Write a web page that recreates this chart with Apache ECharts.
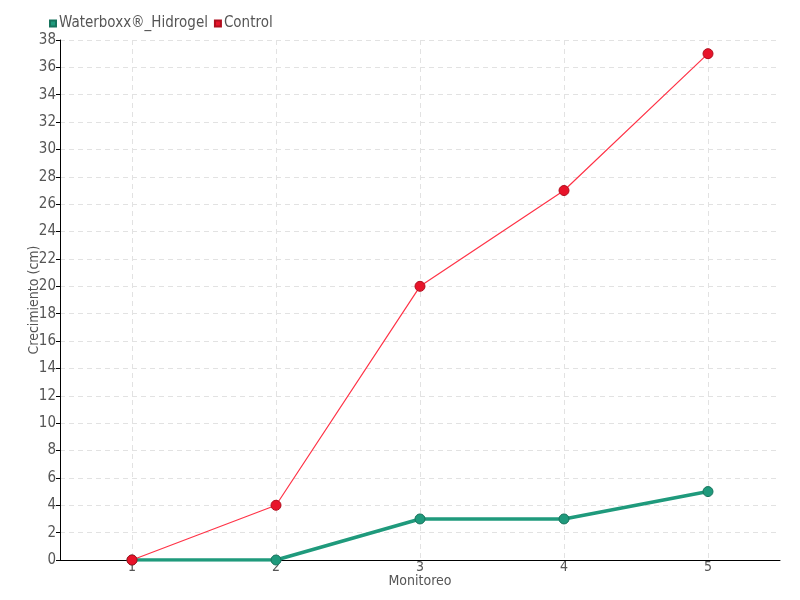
<!DOCTYPE html>
<html><head><meta charset="utf-8">
<script src="https://cdn.jsdelivr.net/npm/echarts@6/dist/echarts.min.js"></script>
<style>html,body{margin:0;padding:0;background:#fff}#c{width:800px;height:600px}</style>
</head><body><div id="c"></div>
<script>
const categories = ['1', '2', '3', '4', '5'];
const waterboxx = [0, 0, 3, 3, 5];
const control = [0, 4, 20, 27, 37];
const seriesNames = ['Waterboxx®_Hidrogel', 'Control'];
const FONT = '"Liberation Sans Narrow", "DejaVu Sans Condensed", sans-serif';
const chart = echarts.init(document.getElementById('c'));
chart.setOption({
  animation: false,
  textStyle: { fontFamily: FONT },
  legend: {
    left: 44, top: 11, itemWidth: 6, itemHeight: 6, itemGap: 6,
    icon: 'rect',
    textStyle: { fontFamily: FONT, fontSize: 15, color: '#555', padding: [0,0,0,-2] },
    data: seriesNames
  },
  grid: { left: 60, right: 20, top: 40, bottom: 40 },
  xAxis: {
    type: 'category', data: categories, boundaryGap: true,
    name: 'Monitoreo', nameLocation: 'middle', nameGap: 14, nameMoveOverlap: false,
    nameTextStyle: { fontFamily: FONT, fontSize: 14, color: '#555' },
    axisLine: { lineStyle: { color: '#000', width: 1 } },
    axisTick: { alignWithLabel: true, length: 7, lineStyle: { color: '#555' } },
    axisLabel: { fontFamily: FONT, fontSize: 14, color: '#555', margin: 0 },
    splitLine: { show: true, alignWithLabel: true, lineStyle: { color: '#e2e2e2', type: [5, 4] } }
  },
  yAxis: {
    type: 'value', min: 0, max: 38, interval: 2,
    name: 'Crecimiento (cm)', nameLocation: 'middle', nameGap: 19, nameMoveOverlap: false,
    nameTextStyle: { fontFamily: FONT, fontSize: 14, color: '#555' },
    axisLine: { show: true, lineStyle: { color: '#000', width: 1 } },
    axisTick: { show: true, length: 4, lineStyle: { color: '#000' } },
    axisLabel: { fontFamily: FONT, fontSize: 15, color: '#555', margin: 4 },
    splitLine: { show: true, lineStyle: { color: '#e2e2e2', type: [5, 4] } }
  },
  series: [
    {
      name: seriesNames[0], type: 'line', data: waterboxx,
      symbol: 'circle', symbolSize: 10,
      itemStyle: { color: '#1f9a7c', borderColor: '#16735c', borderWidth: 1 },
      lineStyle: { color: '#1f9a7c', width: 3.5 }
    },
    {
      name: seriesNames[1], type: 'line', data: control,
      symbol: 'circle', symbolSize: 10,
      itemStyle: { color: '#e8142a', borderColor: '#b00e1e', borderWidth: 1 },
      lineStyle: { color: '#ff3347', width: 1.2 }
    }
  ]
});
</script></body></html>
